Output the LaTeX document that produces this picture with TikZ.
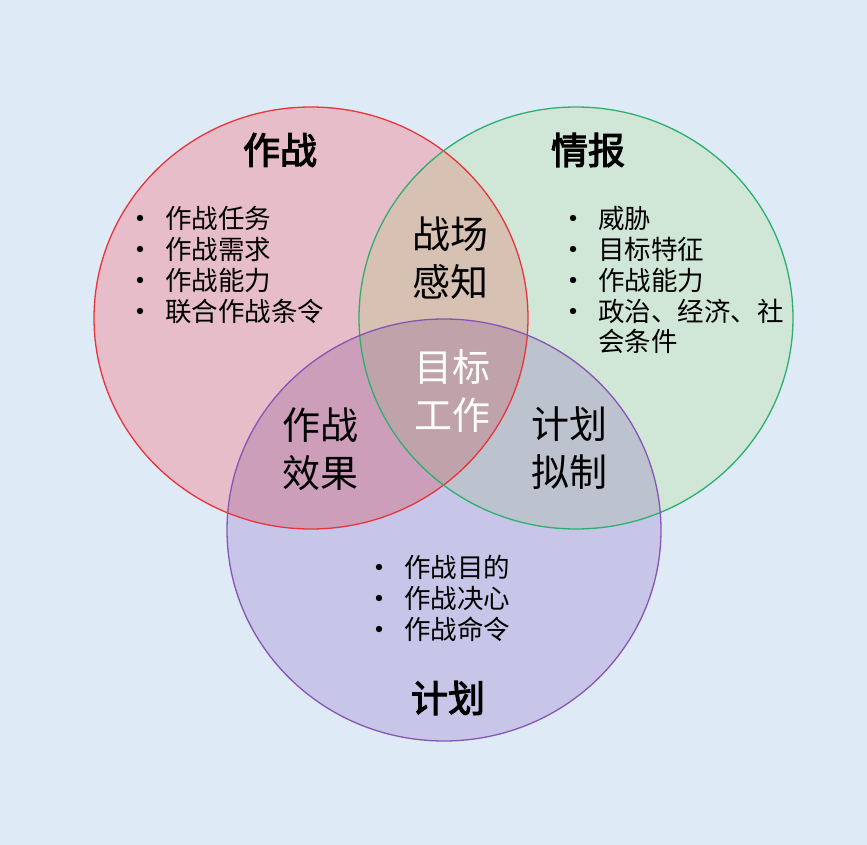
\documentclass[tikz,border=0pt]{standalone}
\usepackage{fontspec}
\newfontfamily\cjk{Noto Sans CJK SC}
\newfontfamily\cjkb[FakeBold=3]{Noto Sans CJK SC}
\definecolor{bg}{RGB}{222,234,246}
\definecolor{rfill}{RGB}{230,189,200}
\definecolor{gfill}{RGB}{208,230,214}
\definecolor{pfill}{RGB}{200,198,232}
\definecolor{rgfill}{RGB}{214,193,178}
\definecolor{rpfill}{RGB}{204,158,186}
\definecolor{gpfill}{RGB}{188,194,206}
\definecolor{allfill}{RGB}{192,162,170}
\definecolor{rline}{RGB}{232,52,60}
\definecolor{gline}{RGB}{44,176,112}
\definecolor{pline}{RGB}{136,84,182}
\tikzset{
  title/.style={font=\cjkb\fontsize{37}{42}\selectfont, text=black, inner sep=0pt},
  region/.style={font=\cjk\fontsize{38}{48}\selectfont, align=center, inner sep=0pt},
  item/.style={font=\cjk\fontsize{26.5}{31}\selectfont, anchor=west, inner sep=0pt},
  ring/.style={line width=1.3pt}
}
\begin{document}
\begin{tikzpicture}[x=1pt,y=-1pt]
\path[use as bounding box] (0,0) rectangle (867,845);
\fill[bg] (0,0) rectangle (867,845);
% base fills
\fill[rfill] (311,318) ellipse [x radius=217, y radius=211];
\fill[gfill] (576,318) ellipse [x radius=217, y radius=211];
\fill[pfill] (444,530) ellipse [x radius=217, y radius=211];
% pair intersections
\begin{scope}
  \clip (311,318) ellipse [x radius=217, y radius=211];
  \fill[rgfill] (576,318) ellipse [x radius=217, y radius=211];
  \fill[rpfill] (444,530) ellipse [x radius=217, y radius=211];
\end{scope}
\begin{scope}
  \clip (576,318) ellipse [x radius=217, y radius=211];
  \fill[gpfill] (444,530) ellipse [x radius=217, y radius=211];
\end{scope}
\begin{scope}
  \clip (311,318) ellipse [x radius=217, y radius=211];
  \clip (576,318) ellipse [x radius=217, y radius=211];
  \fill[allfill] (444,530) ellipse [x radius=217, y radius=211];
\end{scope}
% outlines
\draw[ring, rline] (311,318) ellipse [x radius=217, y radius=211];
\draw[ring, gline] (576,318) ellipse [x radius=217, y radius=211];
\draw[ring, pline] (444,530) ellipse [x radius=217, y radius=211];
% titles
\node[title] (t1) at (280,150) {作战};
\node[title] (t2) at (588,150) {情报};
\node[title] (t3) at (448,698) {计划};
% region labels
\node[region] (r1) at (450,258) {战场\\感知};
\node[region, text=white] (r2) at (452,391) {目标\\工作};
\node[region] (r3) at (320,449) {作战\\效果};
\node[region] (r4) at (569,448) {计划\\拟制};
% left list
\foreach \y/\t [count=\i] in {218/作战任务, 249/作战需求, 280/作战能力, 311/联合作战条令}{
  \fill (140,\y) circle (3.2);
  \node[item] (a\i) at (165,\y) {\t};
}
% right list
\foreach \y/\t [count=\i] in {218/威胁, 249/目标特征, 280/作战能力, 311/政治、经济、社}{
  \fill (573,\y) circle (3.2);
  \node[item] (b\i) at (598,\y) {\t};
}
\node[item] (b5) at (598,341) {会条件};
% bottom list
\foreach \y/\t [count=\i] in {567/作战目的, 598/作战决心, 629/作战命令}{
  \fill (379,\y) circle (3.2);
  \node[item] (c\i) at (404,\y) {\t};
}
\end{tikzpicture}
\end{document}
